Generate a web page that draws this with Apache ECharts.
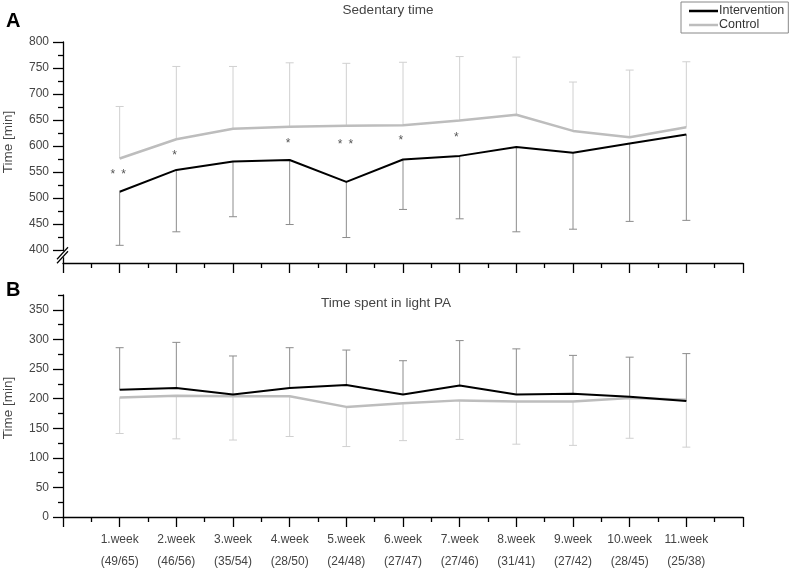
<!DOCTYPE html>
<html>
<head>
<meta charset="utf-8">
<script src="https://cdn.jsdelivr.net/npm/echarts@6/dist/echarts.min.js"></script>
<style>html,body{margin:0;padding:0;background:#fff;}#c{width:790px;height:568px;}</style>
</head>
<body>
<div id="c"></div>
<script>
// ---- data ----
var weeks = ['1.week','2.week','3.week','4.week','5.week','6.week','7.week','8.week','9.week','10.week','11.week'];
var nLabels = ['(49/65)','(46/56)','(35/54)','(28/50)','(24/48)','(27/47)','(27/46)','(31/41)','(27/42)','(28/45)','(25/38)'];

var sedInterventionMean = [512, 554, 570, 573, 531, 574, 581, 598, 587, 605, 622];
var sedInterventionLow  = [409, 435, 464, 449, 424, 478, 460, 435, 440, 455, 457];
var sedControlMean      = [576, 613, 633, 637, 639, 640, 649, 660, 629, 617, 636];
var sedControlHigh      = [676, 753, 753, 760, 759, 761, 772, 771, 723, 746, 762];

var lightInterventionMean = [215, 218, 207, 218, 223, 207, 222, 207, 208, 203, 196];
var lightInterventionHigh = [286, 295, 272, 286, 282, 264, 298, 284, 273, 270, 276];
var lightControlMean      = [202, 205, 204, 204, 186, 192, 197, 195, 195, 201, 198];
var lightControlLow       = [141, 132, 130, 136, 119, 129, 131, 123, 121, 133, 118];

var asteriskX = [0.88, 1.07, 1.97, 3.97, 4.89, 5.08, 5.96, 6.94];
var asteriskY = [550, 550, 587, 611, 608, 608, 616, 622];

var sedMajorTicks = [400, 450, 500, 550, 600, 650, 700, 750, 800];
var sedMinorTicks = [425, 475, 525, 575, 625, 675, 725, 775];
var lightMajorTicks = [0, 50, 100, 150, 200, 250, 300, 350];
var lightMinorTicks = [25, 75, 125, 175, 225, 275, 325, 375];

// ---- helpers ----
function pairs(arr) { return arr.map(function (v, i) { return [i + 1, v]; }); }
function triples(mean, end) { return mean.map(function (v, i) { return [i + 1, v, end[i]]; }); }
var FONT = 'Liberation Sans';
var TXT = '#444';

function errSeries(xi, yi, data, color) {
  return {
    type: 'custom', xAxisIndex: xi, yAxisIndex: yi, z: 1, silent: true,
    encode: { x: 0, y: [1, 2] },
    data: data,
    renderItem: function (params, api) {
      var p1 = api.coord([api.value(0), api.value(1)]);
      var p2 = api.coord([api.value(0), api.value(2)]);
      return { type: 'group', children: [
        { type: 'line', shape: { x1: p1[0], y1: p1[1], x2: p2[0], y2: p2[1] }, style: { stroke: color, lineWidth: 1 } },
        { type: 'line', shape: { x1: p2[0] - 4, y1: p2[1], x2: p2[0] + 4, y2: p2[1] }, style: { stroke: color, lineWidth: 1 } }
      ]};
    }
  };
}
function lineSeries(name, xi, yi, data, color, w) {
  return { name: name, type: 'line', xAxisIndex: xi, yAxisIndex: yi, data: data, symbol: 'none', z: 3,
    lineStyle: { color: color, width: w }, itemStyle: { color: color }, animation: false };
}
function xAxisCfg(gi, showLabels) {
  return {
    type: 'value', gridIndex: gi, min: 0, max: 12, interval: 1,
    axisLine: { show: true, onZero: false, lineStyle: { color: '#000', width: 1.3 } },
    axisTick: { show: true, inside: false, length: 10, lineStyle: { color: '#000', width: 1.3 } },
    minorTick: { show: true, splitNumber: 2, length: 5, lineStyle: { color: '#000', width: 1.3 } },
    splitLine: { show: false },
    axisLabel: {
      show: showLabels, margin: 12, color: TXT, fontSize: 12, fontFamily: FONT, lineHeight: 22,
      formatter: function (v) {
        var i = Math.round(v) - 1;
        return (i >= 0 && i < weeks.length) ? weeks[i] + '\n' + nLabels[i] : '';
      }
    }
  };
}
function yAxisMain(gi, min, max, major) {
  return {
    type: 'value', gridIndex: gi, min: min, max: max, position: 'left',
    axisLine: { show: true, lineStyle: { color: '#000', width: 1.3 } },
    axisTick: { show: true, inside: false, length: 10, customValues: major, lineStyle: { color: '#000', width: 1.3 } },
    axisLabel: { show: true, margin: 14, customValues: major, color: TXT, fontSize: 12, fontFamily: FONT },
    splitLine: { show: false }
  };
}
function yAxisMinor(gi, min, max, minor) {
  return {
    type: 'value', gridIndex: gi, min: min, max: max, position: 'left',
    axisLine: { show: false },
    axisTick: { show: true, inside: false, length: 5, customValues: minor, lineStyle: { color: '#000', width: 1.3 } },
    axisLabel: { show: false },
    splitLine: { show: false }
  };
}

var chart = echarts.init(document.getElementById('c'), null, { renderer: 'canvas' });
var option = {
  animation: false,
  backgroundColor: '#fff',
  textStyle: { fontFamily: FONT },
  title: [
    { text: 'Sedentary time', left: 383, top: -2, textAlign: 'center',
      textStyle: { fontSize: 13.5, fontWeight: 'normal', color: TXT, fontFamily: FONT } },
    { text: 'Time spent in light PA', left: 381, top: 291, textAlign: 'center',
      textStyle: { fontSize: 13.5, fontWeight: 'normal', color: TXT, fontFamily: FONT } }
  ],
  legend: {
    data: [
      { name: 'Intervention', icon: 'rect', itemStyle: { color: '#000' } },
      { name: 'Control', icon: 'rect', itemStyle: { color: '#bdbdbd' } }
    ],
    orient: 'vertical', left: 681, top: 2,
    padding: [2, 4, 1, 8], itemGap: 0, itemWidth: 29, itemHeight: 2.5,
    borderColor: '#888', borderWidth: 1,
    textStyle: { fontSize: 12.5, color: '#333', fontFamily: FONT, lineHeight: 14, padding: [0, 0, 0, -4] }
  },
  grid: [
    { left: 63, top: 42, width: 680, height: 221, containLabel: false, outerBoundsMode: 'none' },
    { left: 63, top: 295, width: 680, height: 222, containLabel: false, outerBoundsMode: 'none' }
  ],
  xAxis: [xAxisCfg(0, false), xAxisCfg(1, true)],
  yAxis: [
    yAxisMain(0, 375, 800, sedMajorTicks),
    yAxisMinor(0, 375, 800, sedMinorTicks),
    yAxisMain(1, 0, 375, lightMajorTicks),
    yAxisMinor(1, 0, 375, lightMinorTicks)
  ],
  series: [
    errSeries(0, 0, triples(sedControlMean, sedControlHigh), '#d0d0d0'),
    errSeries(0, 0, triples(sedInterventionMean, sedInterventionLow), '#8c8c8c'),
    lineSeries('Control', 0, 0, pairs(sedControlMean), '#bdbdbd', 2.5),
    lineSeries('Intervention', 0, 0, pairs(sedInterventionMean), '#000', 2),
    {
      type: 'custom', xAxisIndex: 0, yAxisIndex: 0, z: 4, silent: true,
      data: asteriskX.map(function (x, i) { return [x, asteriskY[i]]; }),
      renderItem: function (params, api) {
        var p = api.coord([api.value(0), api.value(1)]);
        return { type: 'text', x: p[0], y: p[1] + 3,
          style: { text: '*', fontSize: 12, fontFamily: FONT, fill: '#555', align: 'center', verticalAlign: 'middle' } };
      }
    },
    errSeries(1, 2, triples(lightControlMean, lightControlLow), '#d0d0d0'),
    errSeries(1, 2, triples(lightInterventionMean, lightInterventionHigh), '#8c8c8c'),
    lineSeries('Control', 1, 2, pairs(lightControlMean), '#bdbdbd', 2.5),
    lineSeries('Intervention', 1, 2, pairs(lightInterventionMean), '#000', 2)
  ]
};
chart.setOption(option);

// decorations: panel letters, axis names, axis break
var bx = chart.convertToPixel({ xAxisIndex: 0 }, 0);
var by = chart.convertToPixel({ yAxisIndex: 0 }, 388);
chart.setOption({
  graphic: [
    { type: 'text', left: 6, top: 11, style: { text: 'A', fontSize: 20, fontWeight: 'bold', fill: '#000', fontFamily: FONT } },
    { type: 'text', left: 6, top: 280, style: { text: 'B', fontSize: 20, fontWeight: 'bold', fill: '#000', fontFamily: FONT } },
    { type: 'text', x: 8, y: 142, rotation: Math.PI / 2,
      style: { text: 'Time [min]', fontSize: 13.5, fill: TXT, fontFamily: FONT, align: 'center', verticalAlign: 'middle' } },
    { type: 'text', x: 8, y: 408, rotation: Math.PI / 2,
      style: { text: 'Time [min]', fontSize: 13.5, fill: TXT, fontFamily: FONT, align: 'center', verticalAlign: 'middle' } },
    { type: 'rect', shape: { x: bx - 2, y: by - 5, width: 4, height: 6 }, style: { fill: '#fff' }, z: 100 },
    { type: 'line', shape: { x1: bx - 6, y1: by + 3, x2: bx + 5, y2: by - 9 }, style: { stroke: '#000', lineWidth: 1.2 }, z: 101 },
    { type: 'line', shape: { x1: bx - 6, y1: by + 7, x2: bx + 5, y2: by - 5 }, style: { stroke: '#000', lineWidth: 1.2 }, z: 101 }
  ]
});
</script>
</body>
</html>
